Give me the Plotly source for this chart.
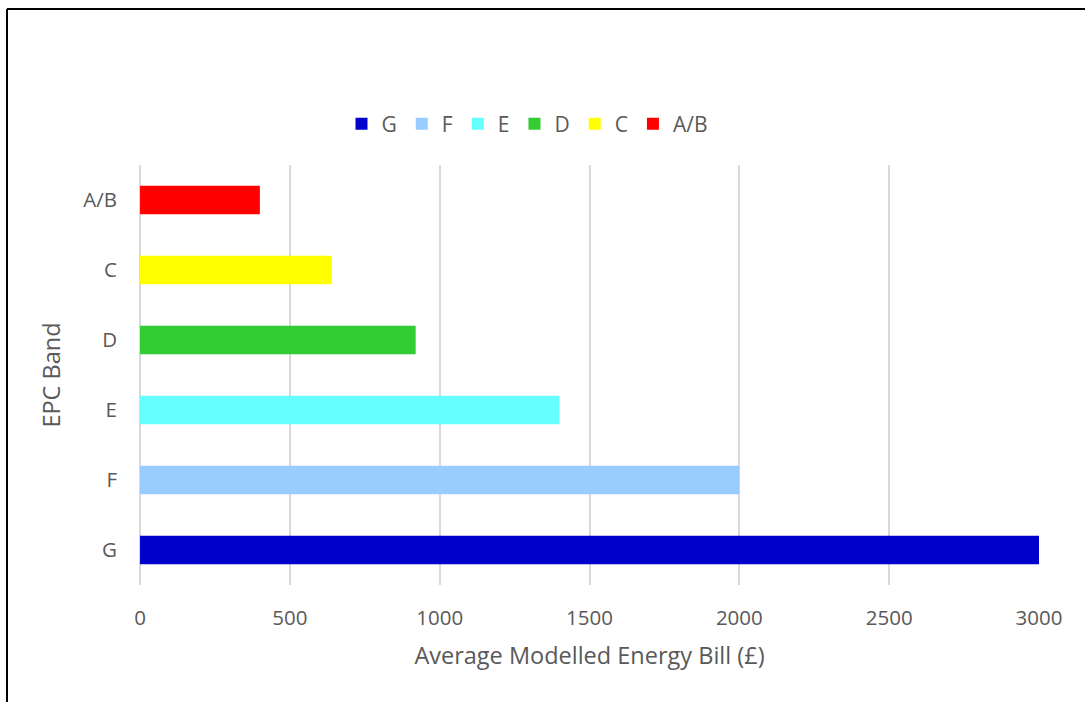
import plotly.graph_objects as go

# EPC bands, bottom to top on the category axis
bands = ["G", "F", "E", "D", "C", "A/B"]
avg_bill = [3000, 2000, 1400, 920, 640, 400]
band_colors = ["#0000CC", "#99CCFF", "#66FFFF", "#33CC33", "#FFFF00", "#FF0000"]

x_ticks = [0, 500, 1000, 1500, 2000, 2500, 3000]

FONT = "Open Sans"
TEXT_COLOR = "#595959"

fig = go.Figure()
for band, val, col in zip(bands, avg_bill, band_colors):
    fig.add_trace(go.Bar(
        x=[val], y=[band], name=band, orientation="h",
        marker=dict(color=col, line=dict(width=0)),
        width=0.41,
    ))

W, H = 1085, 702
m_l, m_r, m_t, m_b = 140, 46, 165, 117
pw, ph = W - m_l - m_r, H - m_t - m_b

def px_x(p):
    return (p - m_l) / pw

def px_y(p):
    return (H - m_b - p) / ph

fig.update_layout(
    width=W, height=H,
    margin=dict(l=m_l, r=m_r, t=m_t, b=m_b, pad=0),
    paper_bgcolor="white", plot_bgcolor="white",
    barmode="overlay",
    font=dict(family=FONT, size=20, color=TEXT_COLOR),
    showlegend=True,
    legend=dict(
        orientation="h", x=px_x(527), xanchor="center",
        y=px_y(124), yanchor="middle",
        font=dict(family=FONT, size=21, color=TEXT_COLOR),
        traceorder="normal", itemwidth=30,
    ),
    xaxis=dict(
        range=[0, 3000], tickvals=x_ticks,
        showgrid=True, gridcolor="#d9d9d9", gridwidth=2,
        zeroline=True, zerolinecolor="#d9d9d9", zerolinewidth=2,
        showline=False, ticks="", ticklabelstandoff=18,
        title=dict(text="Average Modelled Energy Bill (£)", standoff=18,
                   font=dict(family=FONT, size=23.5, color=TEXT_COLOR)),
        tickfont=dict(family=FONT, size=20.5, color=TEXT_COLOR),
    ),
    yaxis=dict(
        categoryorder="array", categoryarray=bands,
        showgrid=False, showline=False, ticks="",
        ticklabelstandoff=22,
        title=dict(text="EPC Band", standoff=16,
                   font=dict(family=FONT, size=23.5, color=TEXT_COLOR)),
        tickfont=dict(family=FONT, size=20.5, color=TEXT_COLOR),
    ),
    shapes=[
        dict(type="line", xref="paper", yref="paper",
             x0=px_x(7), x1=px_x(7), y0=px_y(9), y1=px_y(H + 5),
             line=dict(color="black", width=2)),
        dict(type="line", xref="paper", yref="paper",
             x0=px_x(7), x1=px_x(W + 5), y0=px_y(9), y1=px_y(9),
             line=dict(color="black", width=2)),
    ],
)

fig.write_html("out.html")
